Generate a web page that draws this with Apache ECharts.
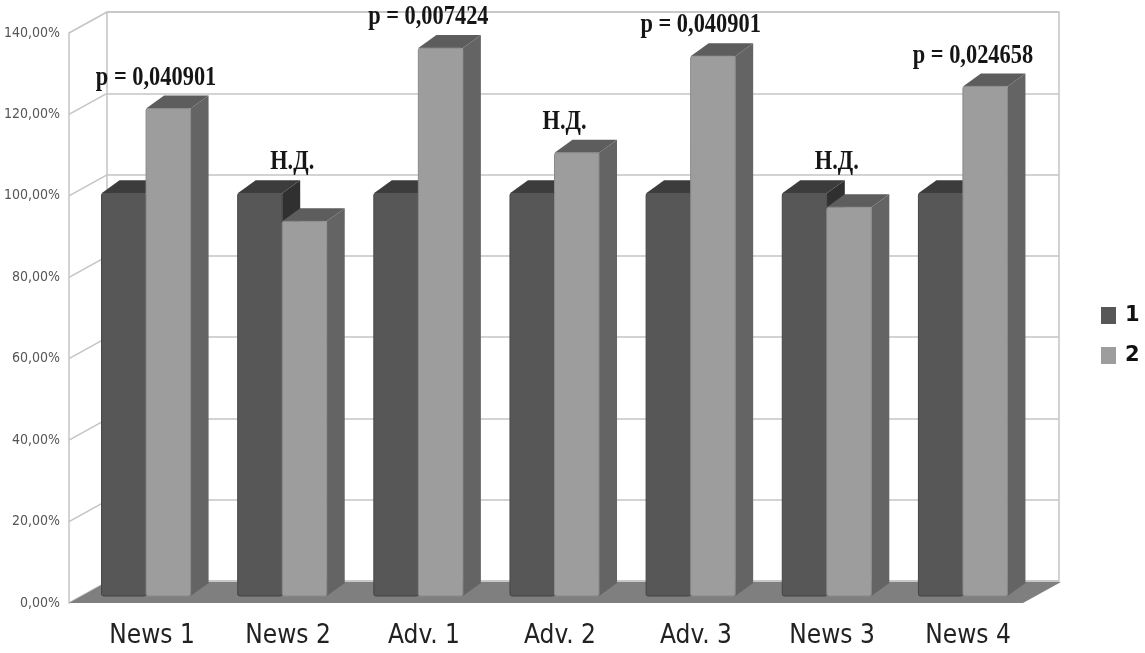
<!DOCTYPE html>
<html><head><meta charset="utf-8">
<script src="https://cdn.jsdelivr.net/npm/echarts@6/dist/echarts.min.js"></script>
<style>html,body{margin:0;padding:0;background:#fff}#c{width:1145px;height:653px}</style>
</head><body><div id="c"></div>
<script>
const categories = ['News 1','News 2','Adv. 1','Adv. 2','Adv. 3','News 3','News 4'];
const seriesNames = ['1','2'];
const series1 = [100,100,100,100,100,100,100];
const series2 = [121,93,136,110,134,96.5,126.5];
const pLabels = ['p = 0,040901','Н.Д.','p = 0,007424','Н.Д.','p = 0,040901','Н.Д.','p = 0,024658'];
const yTicks = [0,20,40,60,80,100,120,140];

const BAR_DX = 18, BAR_DY = -13;
const WALL_DX = 38, WALL_DY = -21;
const GRID_COLOR = '#c4c4c4';
const NARROW = "'Liberation Sans Narrow','DejaVu Sans Condensed','Liberation Sans',sans-serif";

const colors = [
  {front:'#575757', top:'#3c3c3c', side:'#303030', stroke:'#454545'},
  {front:'#9d9d9d', top:'#5d5d5d', side:'#646464', stroke:'#8a8a8a'}
];

function barRender(sIdx){
  return function(params, api){
    const i = api.value(0), v = api.value(1);
    const c = api.coord([i, v]);
    const b = api.coord([i, 0]);
    const bandW = api.size([1, 0])[0];
    const w = bandW * 0.327;
    const x0 = sIdx === 0 ? c[0] - w : c[0];
    const x1 = x0 + w;
    const yt = c[1], yb = b[1];
    const col = colors[sIdx];
    return {
      type: 'group',
      children: [
        {type:'polygon', shape:{points:[[x1,yt],[x1+BAR_DX,yt+BAR_DY],[x1+BAR_DX,yb+BAR_DY],[x1,yb]]}, style:{fill:col.side}},
        {type:'polygon', shape:{points:[[x0,yt],[x0+BAR_DX,yt+BAR_DY],[x1+BAR_DX,yt+BAR_DY],[x1,yt]]}, style:{fill:col.top}},
        {type:'rect', shape:{x:x0, y:yt, width:w, height:yb-yt, r:2}, style:{fill:col.front, stroke:col.stroke, lineWidth:1}}
      ]
    };
  };
}

const option = {
  backgroundColor: '#fff',
  animation: false,
  grid: [
    {left:107, right:86, top:12, bottom:72, show:true, borderColor:GRID_COLOR, borderWidth:1.5, backgroundColor:'transparent'},
    {left:69, right:122, top:33, bottom:50},
    {left:78, right:114, top:32, bottom:57},
    {left:84, right:109, top:33, bottom:50}
  ],
  xAxis: [
    {gridIndex:0, type:'value', min:0, max:1, show:false},
    {gridIndex:1, type:'value', min:0, max:1, show:false},
    {gridIndex:2, type:'category', data:categories, show:false},
    {gridIndex:3, type:'category', data:categories, axisLine:{show:false}, axisTick:{show:false},
      axisLabel:{fontSize:26, color:'#222', fontFamily:NARROW, margin:20}}
  ],
  yAxis: [
    {gridIndex:0, type:'value', min:0, max:140, interval:20, axisLabel:{show:false}, axisLine:{show:false}, axisTick:{show:false},
      splitLine:{show:true, lineStyle:{color:GRID_COLOR, width:1.5}}},
    {gridIndex:1, type:'value', min:0, max:140, interval:20, splitLine:{show:false}, axisTick:{show:false},
      axisLine:{show:true, lineStyle:{color:GRID_COLOR, width:1.5}},
      axisLabel:{margin:9, fontSize:14, color:'#555', fontFamily:NARROW,
        formatter: v => v.toFixed(2).replace('.', ',') + '%'}},
    {gridIndex:2, type:'value', min:0, max:140, show:false},
    {gridIndex:3, type:'value', min:0, max:140, show:false}
  ],
  legend: {
    data: [{name:seriesNames[0], itemStyle:{color:colors[0].front}}, {name:seriesNames[1], itemStyle:{color:colors[1].front}}],
    orient:'vertical', left:1096, top:300, itemWidth:15, itemHeight:17, itemGap:19, icon:'rect', selectedMode:false,
    textStyle:{fontSize:21, fontWeight:'bold', color:'#111', fontFamily:'DejaVu Sans', padding:[0,0,0,4]}
  },
  series: [
    {type:'custom', xAxisIndex:1, yAxisIndex:1, silent:true, z:1,
      data: yTicks.map(v => [0, v]),
      renderItem: (params, api) => {
        const p = api.coord([0, api.value(1)]);
        return {type:'line', shape:{x1:p[0], y1:p[1], x2:p[0]+WALL_DX, y2:p[1]+WALL_DY}, style:{stroke:GRID_COLOR, lineWidth:1.5}};
      }},
    {type:'custom', xAxisIndex:1, yAxisIndex:1, silent:true, z:1,
      data: [[0, 0]],
      renderItem: (params, api) => {
        const a = api.coord([0, 0]), b = api.coord([1, 0]);
        return {type:'polygon', shape:{points:[a, b, [b[0]+WALL_DX, b[1]+WALL_DY], [a[0]+WALL_DX, a[1]+WALL_DY]]}, style:{fill:'#7f7f7f'}};
      }},
    {name:seriesNames[0], type:'custom', xAxisIndex:2, yAxisIndex:2, z:2, itemStyle:{color:colors[0].front},
      encode:{x:0, y:1}, data: series1.map((v, i) => [i, v]), renderItem: barRender(0)},
    {name:seriesNames[1], type:'custom', xAxisIndex:2, yAxisIndex:2, z:3, itemStyle:{color:colors[1].front},
      encode:{x:0, y:1}, data: series2.map((v, i) => [i, v]), renderItem: barRender(1)},
    {type:'custom', xAxisIndex:2, yAxisIndex:2, z:4, silent:true,
      encode:{x:0, y:1},
      data: categories.map((c, i) => [i, Math.max(series1[i], series2[i])]),
      renderItem: (params, api) => {
        const i = api.value(0);
        const p = api.coord([i, api.value(1)]);
        return {type:'text', x:p[0] + 10, y:p[1] - 31, scaleX:0.8,
          style:{text:pLabels[i], fill:'#151515', fontSize:28, fontWeight:'bold', fontFamily:"'Liberation Serif',serif", align:'center', verticalAlign:'middle'}};
      }}
  ]
};
echarts.init(document.getElementById('c'), null, {renderer:'canvas'}).setOption(option);
</script></body></html>
